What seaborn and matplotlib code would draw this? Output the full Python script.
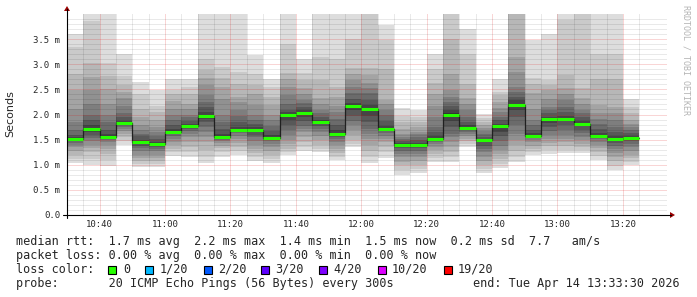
import numpy as np
import pandas as pd
import matplotlib
matplotlib.use("Agg")
import matplotlib.pyplot as plt
import seaborn as sns
from matplotlib.patches import Rectangle, Polygon
from matplotlib.lines import Line2D

# ---------------- data ----------------
# 5-minute RRD steps (start of each step), window shown 10:33:30 .. 13:33:30
slot_first, slot_last = "10:30", "13:20"
view_start, view_end = "10:33:30", "13:33:30"

# median rtt per step (ms)
median_ms = [1.52, 1.72, 1.56, 1.84, 1.45, 1.41, 1.66, 1.77, 1.98, 1.56, 1.69, 1.69,
             1.54, 1.99, 2.03, 1.85, 1.62, 2.17, 2.11, 1.72, 1.40, 1.40, 1.52, 2.00,
             1.74, 1.49, 1.77, 2.19, 1.58, 1.91, 1.91, 1.82, 1.58, 1.52, 1.53]

# sorted ping rtts (ms), rank 1 (fastest) .. rank 20 (slowest), one value per step
ping01 = [1.03, 1.00, 0.98, 1.40, 0.96, 0.96, 1.18, 1.15, 1.03, 1.16, 1.19, 1.07, 1.04, 1.20, 1.28, 1.26, 1.09, 1.36, 1.03, 1.14, 0.80, 0.84, 1.06, 1.06, 1.36, 0.84, 0.93, 1.06, 1.20, 1.22, 1.24, 1.23, 1.09, 0.89, 0.99]
ping02 = [1.12, 1.12, 1.10, 1.48, 1.02, 1.02, 1.25, 1.25, 1.15, 1.25, 1.28, 1.15, 1.12, 1.25, 1.36, 1.32, 1.15, 1.42, 1.15, 1.25, 0.90, 0.92, 1.14, 1.15, 1.42, 0.92, 1.02, 1.16, 1.26, 1.30, 1.30, 1.30, 1.18, 0.98, 1.06]
ping03 = [1.20, 1.25, 1.22, 1.55, 1.08, 1.08, 1.32, 1.35, 1.30, 1.33, 1.36, 1.23, 1.20, 1.32, 1.45, 1.40, 1.23, 1.50, 1.28, 1.36, 1.00, 1.00, 1.22, 1.25, 1.47, 1.00, 1.12, 1.28, 1.32, 1.38, 1.38, 1.36, 1.26, 1.08, 1.13]
ping04 = [1.28, 1.33, 1.32, 1.62, 1.14, 1.14, 1.40, 1.45, 1.45, 1.38, 1.44, 1.32, 1.28, 1.42, 1.56, 1.50, 1.32, 1.60, 1.40, 1.45, 1.06, 1.08, 1.30, 1.35, 1.52, 1.08, 1.22, 1.39, 1.38, 1.43, 1.45, 1.42, 1.33, 1.16, 1.20]
ping05 = [1.35, 1.40, 1.40, 1.68, 1.20, 1.20, 1.46, 1.55, 1.55, 1.43, 1.52, 1.40, 1.36, 1.50, 1.65, 1.58, 1.40, 1.70, 1.52, 1.52, 1.15, 1.15, 1.36, 1.45, 1.57, 1.16, 1.29, 1.50, 1.45, 1.52, 1.52, 1.49, 1.40, 1.24, 1.28]
ping06 = [1.40, 1.47, 1.45, 1.72, 1.28, 1.27, 1.52, 1.62, 1.65, 1.47, 1.58, 1.48, 1.42, 1.60, 1.72, 1.65, 1.46, 1.79, 1.62, 1.58, 1.22, 1.22, 1.42, 1.55, 1.62, 1.25, 1.38, 1.62, 1.50, 1.60, 1.60, 1.56, 1.46, 1.32, 1.36]
ping07 = [1.44, 1.53, 1.49, 1.76, 1.34, 1.32, 1.57, 1.68, 1.75, 1.50, 1.63, 1.55, 1.47, 1.70, 1.78, 1.72, 1.51, 1.88, 1.72, 1.63, 1.28, 1.28, 1.46, 1.62, 1.66, 1.32, 1.48, 1.80, 1.53, 1.68, 1.70, 1.63, 1.51, 1.38, 1.42]
ping08 = [1.47, 1.60, 1.52, 1.79, 1.38, 1.36, 1.61, 1.72, 1.85, 1.53, 1.66, 1.60, 1.50, 1.80, 1.88, 1.78, 1.55, 1.98, 1.85, 1.67, 1.33, 1.33, 1.49, 1.75, 1.69, 1.38, 1.58, 1.95, 1.55, 1.76, 1.80, 1.70, 1.54, 1.44, 1.47]
ping09 = [1.50, 1.66, 1.54, 1.82, 1.42, 1.39, 1.64, 1.75, 1.92, 1.55, 1.68, 1.65, 1.53, 1.90, 1.96, 1.82, 1.59, 2.08, 1.98, 1.70, 1.36, 1.37, 1.51, 1.88, 1.72, 1.45, 1.66, 2.08, 1.57, 1.84, 1.87, 1.77, 1.56, 1.49, 1.50]
ping10 = [1.52, 1.70, 1.55, 1.84, 1.45, 1.41, 1.66, 1.77, 1.97, 1.56, 1.69, 1.68, 1.54, 1.97, 2.02, 1.85, 1.61, 2.15, 2.09, 1.72, 1.39, 1.40, 1.52, 1.98, 1.74, 1.48, 1.75, 2.17, 1.58, 1.90, 1.90, 1.81, 1.58, 1.52, 1.53]
ping11 = [1.53, 1.74, 1.57, 1.85, 1.46, 1.42, 1.67, 1.78, 1.99, 1.57, 1.70, 1.70, 1.55, 2.00, 2.04, 1.86, 1.63, 2.18, 2.12, 1.73, 1.40, 1.41, 1.53, 2.02, 1.75, 1.50, 1.78, 2.21, 1.59, 1.92, 1.92, 1.83, 1.59, 1.53, 1.54]
ping12 = [1.56, 1.80, 1.62, 1.88, 1.50, 1.46, 1.72, 1.82, 2.05, 1.62, 1.75, 1.75, 1.60, 2.05, 2.09, 1.89, 1.70, 2.22, 2.18, 1.78, 1.43, 1.44, 1.58, 2.08, 1.80, 1.52, 1.82, 2.28, 1.63, 1.96, 1.97, 1.88, 1.64, 1.58, 1.58]
ping13 = [1.60, 1.90, 1.70, 1.95, 1.57, 1.52, 1.80, 1.88, 2.15, 1.72, 1.85, 1.82, 1.68, 2.09, 2.15, 1.95, 1.80, 2.30, 2.28, 1.88, 1.47, 1.49, 1.65, 2.16, 1.86, 1.56, 1.89, 2.35, 1.69, 2.02, 2.05, 1.95, 1.72, 1.65, 1.63]
ping14 = [1.70, 2.00, 1.85, 2.03, 1.62, 1.58, 1.90, 1.95, 2.25, 1.85, 1.98, 1.90, 1.78, 2.20, 2.22, 2.02, 1.92, 2.42, 2.42, 2.00, 1.52, 1.55, 1.76, 2.25, 1.95, 1.62, 1.96, 2.45, 1.80, 2.08, 2.15, 2.02, 1.82, 1.75, 1.70]
ping15 = [1.85, 2.20, 1.99, 2.16, 1.70, 1.65, 2.00, 2.00, 2.39, 1.99, 2.09, 2.00, 1.90, 2.39, 2.29, 2.09, 2.05, 2.55, 2.52, 2.09, 1.56, 1.62, 1.95, 2.35, 2.09, 1.68, 2.04, 2.55, 1.89, 2.15, 2.29, 2.09, 1.92, 1.89, 1.76]
ping16 = [2.10, 2.49, 2.20, 2.32, 1.80, 1.75, 2.10, 2.10, 2.59, 2.30, 2.25, 2.18, 2.00, 2.55, 2.40, 2.20, 2.16, 2.68, 2.62, 2.20, 1.62, 1.66, 2.16, 2.48, 2.20, 1.74, 2.12, 2.85, 2.10, 2.30, 2.40, 2.20, 2.02, 2.02, 1.82]
ping17 = [2.48, 2.75, 2.50, 2.45, 1.95, 1.90, 2.26, 2.21, 2.72, 2.55, 2.35, 2.40, 2.19, 2.70, 2.52, 2.32, 2.35, 2.80, 2.78, 2.29, 1.72, 1.75, 2.40, 2.80, 2.32, 1.79, 2.25, 3.15, 2.42, 2.48, 2.52, 2.32, 2.19, 2.15, 1.90]
ping18 = [2.81, 3.02, 2.77, 2.58, 2.10, 2.05, 2.40, 2.40, 2.88, 2.73, 2.60, 2.59, 2.35, 2.82, 2.68, 2.68, 2.55, 2.92, 2.92, 2.90, 1.85, 1.85, 2.62, 3.50, 2.60, 1.86, 2.38, 4.20, 2.60, 2.58, 2.78, 2.52, 2.70, 2.70, 2.02]
ping19 = [3.35, 3.87, 3.02, 2.76, 2.40, 2.16, 2.49, 2.55, 3.10, 2.95, 2.85, 2.80, 2.55, 3.41, 2.82, 3.15, 3.10, 3.51, 4.30, 3.48, 1.98, 1.95, 2.90, 4.30, 3.20, 1.94, 2.45, 4.40, 2.72, 2.68, 3.88, 4.20, 3.21, 3.21, 2.15]
ping20 = [3.61, 4.60, 4.60, 3.21, 2.65, 2.49, 2.70, 2.70, 4.60, 4.60, 4.60, 3.18, 2.70, 4.60, 3.10, 4.60, 4.60, 4.60, 4.60, 3.78, 2.12, 2.09, 3.20, 4.60, 3.71, 2.01, 2.70, 4.60, 3.49, 3.61, 4.60, 4.60, 4.60, 4.60, 2.30]

# axis ticks
x_tick_labels = ["10:40", "11:00", "11:20", "11:40", "12:00", "12:20", "12:40", "13:00", "13:20"]
y_tick_values = [0.0, 0.5, 1.0, 1.5, 2.0, 2.5, 3.0, 3.5]
y_tick_labels = ["0.0", "0.5 m", "1.0 m", "1.5 m", "2.0 m", "2.5 m", "3.0 m", "3.5 m"]

# legend
stats_line = "median rtt:  1.7 ms avg  2.2 ms max  1.4 ms min  1.5 ms now  0.2 ms sd  7.7   am/s"
loss_line = "packet loss: 0.00 % avg  0.00 % max  0.00 % min  0.00 % now"
loss_labels = ["0", "1/20", "2/20", "3/20", "4/20", "10/20", "19/20"]
loss_colors = ["#26ff00", "#00b8ff", "#0059ff", "#5e00ff", "#7e00ff", "#dd00ff", "#ff0000"]
probe_line = "probe:       20 ICMP Echo Pings (56 Bytes) every 300s"
end_line = "end: Tue Apr 14 13:33:30 2026"

# ---------------- figure ----------------
sns.set_style("white")
plt.rcParams["font.family"] = ["DejaVu Sans Mono", "DejaVu Sans"]

W, H, DPI = 697, 297, 100
fig = plt.figure(figsize=(W / DPI, H / DPI), dpi=DPI)
fig.patch.set_facecolor("white")

def fx(px):
    return px / W

def fy(py):
    return 1 - py / H

L, R, B, T = 67, 667, 215, 14
ax = fig.add_axes([fx(L), fy(B), (R - L) / W, (B - T) / H])
ax.set_facecolor("white")

day = "2026-04-14 "
t0 = pd.Timestamp(day + slot_first)
slots = pd.date_range(day + slot_first, day + slot_last, freq="5min")
xs = np.asarray((slots - t0).total_seconds() / 60.0)
def tmin(s):
    return (pd.Timestamp(day + s) - t0).total_seconds() / 60.0

pings = np.sort(np.array([ping01, ping02, ping03, ping04, ping05, ping06, ping07, ping08, ping09, ping10,
                          ping11, ping12, ping13, ping14, ping15, ping16, ping17, ping18, ping19, ping20]), axis=0)
n = pings.shape[0]
half = n // 2
for i in range(1, half + 1):
    g = int(190 / half * (half - i)) + 50
    col = "#%02x%02x%02x" % (g, g, g)
    lo = pings[i - 1]
    hi = pings[n - i]
    ax.bar(xs, hi - lo, bottom=lo, width=5, align="edge", color=col,
           linewidth=0, antialiased=False, zorder=1)

med = np.array(median_ms)
df = pd.DataFrame({"t": np.append(xs, xs[-1] + 5), "median": np.append(med, med[-1])})
sns.lineplot(data=df, x="t", y="median", drawstyle="steps-post", estimator=None,
             color="#202020", lw=0.9, ax=ax, zorder=3)
ax.hlines(med, xs, xs + 5, colors="#26ff00", lw=2.2, zorder=4)

ax.set_xlim(tmin(view_start), tmin(view_end))
ax.set_ylim(0, 4.0)

major_x = [tmin(s) for s in x_tick_labels]
ax.set_xticks(major_x)
ax.set_xticklabels(x_tick_labels)
ax.set_xticks(np.append(xs, xs[-1] + 5), minor=True)
ax.set_yticks(y_tick_values)
ax.set_yticklabels(y_tick_labels)
ax.set_yticks(np.round(np.arange(0.1, 4.0, 0.1), 2), minor=True)
ax.set_axisbelow(False)
ax.grid(which="minor", color="black", alpha=0.17, lw=0.72, linestyle=(0, (1, 1)))
ax.grid(which="major", color="#dd1111", alpha=0.35, lw=0.72, linestyle=(0, (1, 1)))
ax.tick_params(which="both", length=0)
ax.tick_params(axis="x", pad=3.5, labelsize=6.5)
ax.tick_params(axis="y", pad=5, labelsize=6.5)
for s in ax.spines.values():
    s.set_visible(False)
ax.set_xlabel("")
ax.set_ylabel("")

# axes lines with arrows
fig.add_artist(Line2D([fx(63), fx(671)], [fy(B), fy(B)], color="black", lw=0.8))
fig.add_artist(Line2D([fx(L), fx(L)], [fy(218), fy(9)], color="black", lw=0.8))
fig.add_artist(Polygon([[fx(670), fy(B - 3)], [fx(670), fy(B + 3)], [fx(675), fy(B)]],
                       closed=True, color="#990000", lw=0, transform=fig.transFigure))
fig.add_artist(Polygon([[fx(L - 3), fy(11)], [fx(L + 3), fy(11)], [fx(L), fy(6)]],
                       closed=True, color="#990000", lw=0, transform=fig.transFigure))

fig.text(fx(10.5), fy(114), "Seconds", rotation=90, ha="center", va="center",
         fontsize=8, family="DejaVu Sans")
fig.text(fx(686), fy(5), "RRDTOOL / TOBI OETIKER", rotation=270, ha="center", va="top",
         fontsize=6, color="#b4b4b4")

fs = 8.5
fig.text(fx(16), fy(245), stats_line, ha="left", va="baseline", fontsize=fs)
fig.text(fx(16), fy(259), loss_line, ha="left", va="baseline", fontsize=fs)
fig.text(fx(16), fy(273), "loss color:", ha="left", va="baseline", fontsize=fs)
sq_x = [108, 145, 203.5, 261, 319, 378, 443.5]
lab_x = [123.5, 160, 218, 275.5, 333, 392, 458]
for sx, lx, lab, c in zip(sq_x, lab_x, loss_labels, loss_colors):
    fig.add_artist(Rectangle((fx(sx), fy(273.5)), 8 / W, 8 / H, facecolor=c,
                             edgecolor="black", lw=0.8, transform=fig.transFigure))
    fig.text(fx(lx), fy(273), lab, ha="left", va="baseline", fontsize=fs)
fig.text(fx(16), fy(287), probe_line, ha="left", va="baseline", fontsize=fs)
fig.text(fx(680), fy(287), end_line, ha="right", va="baseline", fontsize=fs)

fig.savefig("out.png", dpi=DPI)
